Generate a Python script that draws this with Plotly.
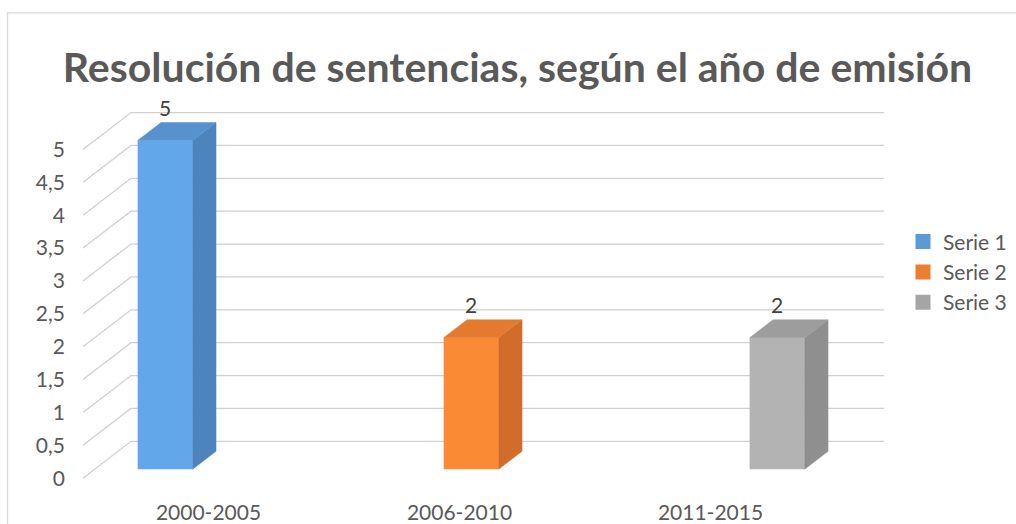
import plotly.graph_objects as go

# ---------------- data ----------------
categories = ["2000-2005", "2006-2010", "2011-2015"]
series_names = ["Serie 1", "Serie 2", "Serie 3"]
serie_1 = [5, None, None]
serie_2 = [None, 2, None]
serie_3 = [None, None, 2]
series_values = [serie_1, serie_2, serie_3]
y_tick_values = [0, 0.5, 1, 1.5, 2, 2.5, 3, 3.5, 4, 4.5, 5]
title_text = "Resolución de sentencias, según el año de emisión"

# ---------------- style ----------------
front_colors = ["#62A7E9", "#FB8A34", "#B3B3B3"]
side_colors = ["#4D84BC", "#D26C2A", "#8F8F8F"]
top_colors = ["#5792CF", "#E47A30", "#9D9D9D"]
legend_colors = ["#5B9BD5", "#ED7D31", "#A5A5A5"]
GRID = "#D0D0D0"
TEXT = "#595959"
FONT = "Lato"

W, H = 1016, 524
CAT_PX = 251.0          # pixels per category (front floor)
UNIT_PX = 66.0          # pixels per value unit
X0_PX = 208.5           # pixel of first category centre (front floor)
Y0_PX = 480.0           # pixel of value 0 (front floor)
DEPTH_DX_PX, DEPTH_DY_PX = 48.0, 37.0   # full floor depth in pixels
D_FRONT, D_BACK = 0.243, 0.73
BAR_W = 55.0 / CAT_PX
PLOT_L, PLOT_R, PLOT_T, PLOT_B = 66, 890, 90, 500


def depth(d):
    return d * DEPTH_DX_PX / CAT_PX, d * DEPTH_DY_PX / UNIT_PX


fig = go.Figure()

# back-wall gridlines with the slanted side-wall segment
x_left = -0.5
x_right = len(categories) - 0.5
bdx, bdv = depth(1.0)
for v in y_tick_values:
    fig.add_shape(
        type="path",
        path=f"M{x_left},{v} L{x_left + bdx},{v + bdv} L{x_right + bdx},{v + bdv}",
        xref="x", yref="y", layer="below",
        line=dict(color=GRID, width=1.3),
    )

fdx, fdv = depth(D_FRONT)
sdx, sdv = depth(D_BACK - D_FRONT)
n = len(series_values)
xs = [i + fdx for i in range(len(categories))]

for j, vals in enumerate(series_values):
    off = (j - n / 2) * BAR_W
    fig.add_trace(go.Bar(
        x=xs, y=vals, base=fdv, width=BAR_W, offset=off,
        marker=dict(color=front_colors[j], line=dict(width=0)),
        showlegend=False, hoverinfo="skip",
    ))
    for i, v in enumerate(vals):
        if v is None:
            continue
        xl = xs[i] + off
        xr = xl + BAR_W
        b = fdv
        t = fdv + v
        fig.add_trace(go.Scatter(
            x=[xr, xr, xr + sdx, xr + sdx, xr],
            y=[b, t, t + sdv, b + sdv, b],
            mode="lines", fill="toself", fillcolor=side_colors[j],
            line=dict(color=side_colors[j], width=0.5),
            showlegend=False, hoverinfo="skip",
        ))
        fig.add_trace(go.Scatter(
            x=[xl, xr, xr + sdx, xl + sdx, xl],
            y=[t, t, t + sdv, t + sdv, t],
            mode="lines", fill="toself", fillcolor=top_colors[j],
            line=dict(color=top_colors[j], width=0.5),
            showlegend=False, hoverinfo="skip",
        ))
        fig.add_trace(go.Scatter(
            x=[xl + BAR_W / 2], y=[t + sdv + 12.0 / UNIT_PX],
            mode="text", text=[str(v)], textposition="middle center",
            textfont=dict(family=FONT, size=21, color="#404040"),
            cliponaxis=False, showlegend=False, hoverinfo="skip",
        ))

# legend entries
for j, name in enumerate(series_names):
    fig.add_trace(go.Scatter(
        x=[None], y=[None], mode="markers", name=name,
        marker=dict(symbol="square", size=15, color=legend_colors[j]),
        legendgroup=name,
    ))

fig.add_shape(
    type="rect", xref="paper", yref="paper",
    x0=7.5 / W, x1=1.05, y0=-0.05, y1=1 - 13.0 / H,
    line=dict(color="#D9D9D9", width=1.3), layer="below",
)

fig.update_layout(
    width=W, height=H,
    margin=dict(l=0, r=0, t=0, b=0),
    paper_bgcolor="white", plot_bgcolor="white",
    barmode="overlay",
    separators=",.",
    font=dict(family=FONT, size=21, color=TEXT),
    showlegend=True,
    legend=dict(
        x=903 / W, xanchor="left", y=1 - 273.0 / H, yanchor="middle",
        font=dict(family=FONT, size=21, color=TEXT),
        itemsizing="trace", tracegroupgap=0, bgcolor="rgba(0,0,0,0)",
    ),
    title=dict(
        text=title_text, x=517.5 / W, xanchor="center",
        y=1 - 68.0 / H, yanchor="middle",
        font=dict(family=FONT, size=41, color=TEXT, weight="bold"),
    ),
    xaxis=dict(
        domain=[PLOT_L / W, PLOT_R / W],
        range=[(PLOT_L - X0_PX) / CAT_PX, (PLOT_R - X0_PX) / CAT_PX],
        tickmode="array", tickvals=list(range(len(categories))), ticktext=categories,
        showgrid=False, zeroline=False, showline=False, ticks="", fixedrange=True,
    ),
    yaxis=dict(
        domain=[(H - PLOT_B) / H, (H - PLOT_T) / H],
        range=[(Y0_PX - PLOT_B) / UNIT_PX, (Y0_PX - PLOT_T) / UNIT_PX],
        tickmode="array", tickvals=y_tick_values,
        showgrid=False, zeroline=False, showline=False, ticks="", fixedrange=True,
    ),
)

fig.write_html("out.html")
